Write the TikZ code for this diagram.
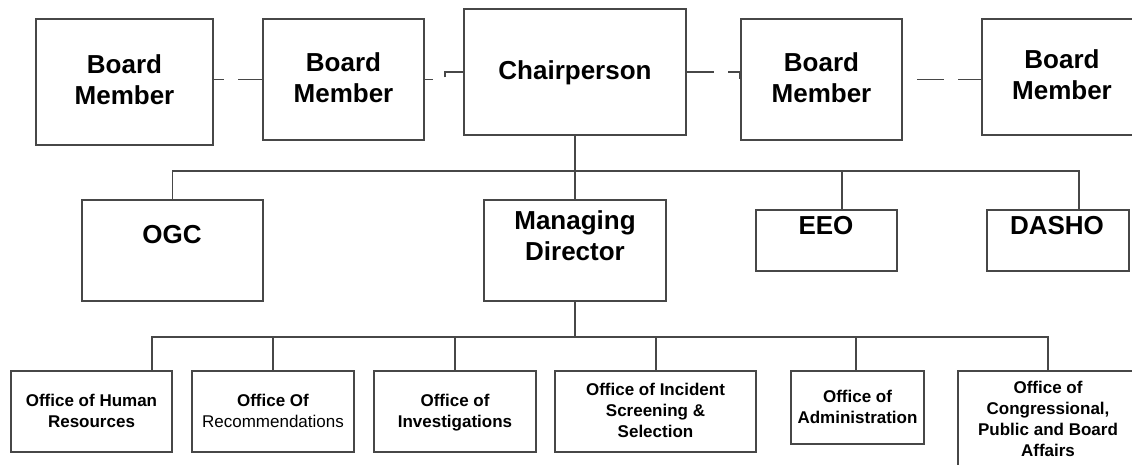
\documentclass[tikz,border=0pt]{standalone}
\usepackage{fontspec}
\setmainfont{Liberation Sans}
\begin{document}
\begin{tikzpicture}[x=1pt,y=-1pt,
  box/.style={draw=black!72, line width=2pt, inner sep=0pt, rectangle},
  big/.style={font=\bfseries\fontsize{26}{31}\selectfont, align=center, inner sep=0pt, text=black},
  small/.style={font=\bfseries\fontsize{17}{21}\selectfont, align=center, inner sep=0pt, text=black},
  conn/.style={draw=black!72, line width=1.8pt},
  dconn/.style={conn, dash pattern=on 27pt off 14pt}]
\useasboundingbox (0,0) rectangle (1132,465);
% top row boxes
\node[box, minimum width=177, minimum height=126] (bm1) at (124.5,82) {};
\node[box, minimum width=161, minimum height=121] (bm2) at (343.5,79.5) {};
\node[box, minimum width=222, minimum height=126] (chair) at (575,72) {};
\node[box, minimum width=161, minimum height=121] (bm3) at (821.5,79.5) {};
\node[box, minimum width=160, minimum height=116] (bm4) at (1062,77) {};
% second row boxes
\node[box, minimum width=181, minimum height=101] (ogc) at (172.5,250.5) {};
\node[box, minimum width=182, minimum height=101] (md) at (575,250.5) {};
\node[box, minimum width=141, minimum height=61] (eeo) at (826.5,240.5) {};
\node[box, minimum width=142, minimum height=61] (dasho) at (1058,240.5) {};
% bottom row boxes
\node[box, minimum width=161, minimum height=81] (ohr) at (91.5,411.5) {};
\node[box, minimum width=162, minimum height=81] (orec) at (273,411.5) {};
\node[box, minimum width=162, minimum height=81] (oinv) at (455,411.5) {};
\node[box, minimum width=201, minimum height=81] (oiss) at (655.5,411.5) {};
\node[box, minimum width=133, minimum height=73] (oadm) at (857.5,407.5) {};
\node[box, minimum width=180, minimum height=108] (ocong) at (1048,425) {};
% texts
\node[big] (bm1t) at (124.5,80) {Board\\Member};
\node[big] (bm2t) at (343.5,78) {Board\\Member};
\node[big] (chairt) at (575,72.5) {Chairperson};
\node[big] (bm3t) at (821.5,77.5) {Board\\Member};
\node[big] (bm4t) at (1062,75) {Board\\Member};
\node[big] (ogct) at (172,235) {OGC};
\node[big] (mdt) at (575,235.5) {Managing\\Director};
\node[big] (eeot) at (826,225.5) {EEO};
\node[big] (dashot) at (1057,225.5) {DASHO};
\node[small] (ohrt) at (91.5,411) {Office of Human\\Resources};
\node[small] (orect) at (273,411) {Office Of\\\mdseries Recommendations};
\node[small] (oinvt) at (455,412.5) {Office of\\Investigations};
\node[small] (oisst) at (655.5,410) {Office of Incident\\Screening \&\\Selection};
\node[small] (oadmt) at (857.5,407) {Office of\\Administration};
\node[small] (ocongt) at (1048,419) {Office of\\Congressional,\\Public and Board\\Affairs};
% board connectors
\draw[dconn, dash phase=17pt] (bm2.west -| bm1.east) -- (bm2.west);
\draw[dconn, dash phase=19pt] (bm2.east) -- ++(20,0) |- (chair.west);
\draw[dconn] (chair.east) -| (bm3.west);
\draw[dconn, dash phase=27pt] (bm3.east) -- (bm3.east -| bm4.west);
% first tree
\coordinate (j1) at ([yshift=-35pt]chair.south);
\draw[conn] (chair.south) -- (j1);
\draw[conn] (j1) -| (ogc.north);
\draw[conn] (j1) -- (md.north);
\draw[conn] (j1) -| ([xshift=15.5pt]eeo.north);
\draw[conn] (j1) -| ([xshift=21pt]dasho.north);
% second tree
\coordinate (j2) at ([yshift=-35pt]md.south);
\draw[conn] (md.south) -- (j2);
\draw[conn] (j2) -| ([xshift=60.5pt]ohr.north);
\draw[conn] (j2) -| (orec.north);
\draw[conn] (j2) -| (oinv.north);
\draw[conn] (j2) -| ([xshift=0.5pt]oiss.north);
\draw[conn] (j2) -| ([xshift=-1.5pt]oadm.north);
\draw[conn] (j2) -| (ocong.north);
\end{tikzpicture}
\end{document}
